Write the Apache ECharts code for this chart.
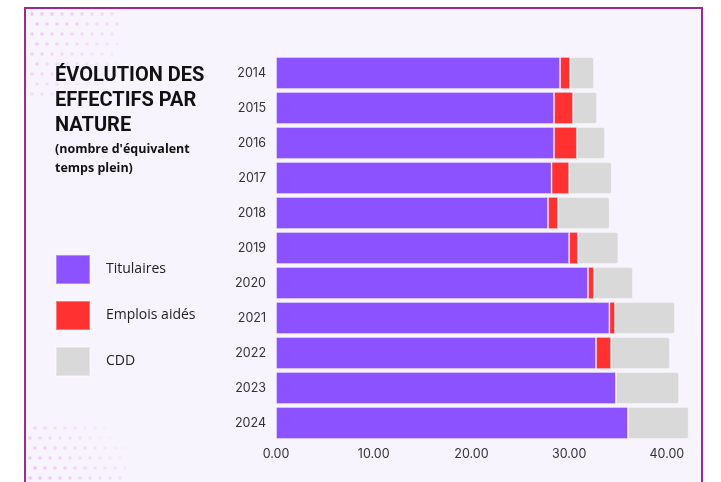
<!DOCTYPE html>
<html>
<head>
<meta charset="utf-8">
<script src="https://cdn.jsdelivr.net/npm/echarts@6/dist/echarts.min.js"></script>
<style>html,body{margin:0;padding:0;background:#fff;}#c{width:721px;height:482px;}</style>
</head>
<body>
<div id="c"></div>
<script>
const categories = ['2014','2015','2016','2017','2018','2019','2020','2021','2022','2023','2024'];
const titulaires = [29.07, 28.45, 28.45, 28.2, 27.84, 30.0, 31.93, 34.12, 32.75, 34.8, 36.03];
const emploisAides = [1.02, 1.95, 2.35, 1.8, 1.02, 0.9, 0.62, 0.58, 1.54, 0, 0];
const cdd = [2.46, 2.46, 2.87, 4.36, 5.29, 4.14, 3.99, 6.14, 6.04, 6.45, 6.21];
const seriesNames = ['Titulaires', 'Emplois aidés', 'CDD'];
const xTicks = [0, 10, 20, 30, 40];

const colors = ['#8C52FF', '#FF3131', '#D9D9D9'];
const chart = echarts.init(document.getElementById('c'), null, {renderer: 'canvas'});

const dots = [];
function addDots(cx, cy, rows, cols, step, fade, base, dirY) {
  for (let r = 0; r < rows; r++) {
    for (let c = 0; c < cols; c++) {
      const op = Math.max(0, base - fade * (r + c));
      if (op <= 0.05) continue;
      dots.push({type: 'circle', silent: true, z: -9,
        shape: {cx: cx + c * step + (r % 2) * step / 2, cy: cy + dirY * r * step, r: 1.8},
        style: {fill: 'rgba(235,160,240,' + op.toFixed(2) + ')'}});
    }
  }
}
addDots(32, 14, 9, 9, 10, 0.04, 0.6, 1);
addDots(30, 478, 6, 10, 10, 0.045, 0.6, -1);

chart.setOption({
  animation: false,
  color: colors,
  graphic: [
    {type: 'rect', silent: true, z: -10,
     shape: {x: 25, y: 8, width: 677, height: 520},
     style: {fill: '#F7F4FE', stroke: '#9C2A92', lineWidth: 2}}
  ].concat(dots),
  title: {
    left: 55, top: 63, padding: 0,
    text: 'ÉVOLUTION DES\nEFFECTIFS PAR\nNATURE',
    subtext: "(nombre d'équivalent\ntemps plein)",
    itemGap: 2,
    textStyle: {fontFamily: 'Roboto', fontWeight: 'bold', fontSize: 20, lineHeight: 25, color: '#111'},
    subtextStyle: {fontFamily: 'Open Sans', fontWeight: 'bold', fontSize: 12.5, lineHeight: 19, color: '#111'}
  },
  legend: {
    orient: 'vertical', left: 55, top: 254, padding: 0,
    itemWidth: 34, itemHeight: 29, itemGap: 15,
    icon: 'rect',
    data: seriesNames,
    textStyle: {fontFamily: 'Open Sans', fontSize: 14, color: '#222', padding: [0, 0, 0, 11]}
  },
  grid: {left: 276, right: 5.3, top: 55.5, bottom: 41.5, containLabel: false},
  xAxis: {
    type: 'value', min: 0, max: 45, interval: 10,
    splitLine: {show: false}, axisLine: {show: false}, axisTick: {show: false},
    axisLabel: {
      margin: 7, fontFamily: 'Inter', fontSize: 12.5, color: '#333',
      formatter: v => xTicks.indexOf(v) >= 0 ? v.toFixed(2) : ''
    }
  },
  yAxis: {
    type: 'category', data: categories, inverse: true,
    axisLine: {show: false}, axisTick: {show: false},
    axisLabel: {margin: 10, fontFamily: 'Inter', fontSize: 12.5, color: '#333'}
  },
  series: [
    {name: seriesNames[0], type: 'bar', stack: 'a', data: titulaires, barCategoryGap: '8%',
     itemStyle: {color: colors[0], borderColor: 'rgba(255,255,255,0.35)', borderWidth: 1}},
    {name: seriesNames[1], type: 'bar', stack: 'a', data: emploisAides,
     itemStyle: {color: colors[1], borderColor: 'rgba(255,255,255,0.35)', borderWidth: 1}},
    {name: seriesNames[2], type: 'bar', stack: 'a', data: cdd,
     itemStyle: {color: colors[2], borderColor: 'rgba(255,255,255,0.35)', borderWidth: 1, borderRadius: [0, 2, 2, 0]}}
  ]
});
</script>
</body>
</html>
